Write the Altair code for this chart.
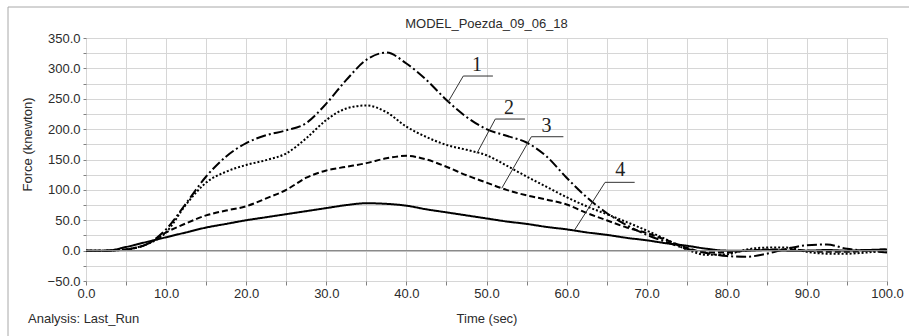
import altair as alt
import pandas as pd

# Sample times (s) and force histories (kN) for the four cases
time_s = [0, 2.5, 5, 7.5, 10, 12.5, 15, 17.5, 20, 22.5, 25, 27.5, 30, 32.5, 35, 37.5, 40,
          42.5, 45, 47.5, 50, 52.5, 55, 57.5, 60, 62.5, 65, 67.5, 70, 72.5, 75, 77.5, 80,
          82.5, 85, 87.5, 90, 92.5, 95, 97.5, 100]

force_1 = [0, 0, 2, 10, 35, 78, 122, 155, 177, 190, 198, 210, 242, 281, 314, 326, 308,
           281, 248, 220, 200, 189, 178, 155, 120, 88, 62, 42, 26, 14, 3, -4, -9,
           -10, -5, 3, 9, 10, 3, 0, -3]
force_2 = [0, 0, 2, 10, 30, 76, 112, 130, 141, 149, 160, 185, 215, 234, 239, 228, 204,
           187, 174, 166, 157, 140, 122, 105, 88, 73, 60, 47, 33, 18, 2, -7, -6,
           2, 5, 5, -2, -5, -5, -3, 0]
force_3 = [0, 0, 2, 10, 30, 45, 58, 66, 73, 86, 100, 120, 132, 138, 144, 152, 156,
           150, 138, 124, 112, 100, 91, 84, 76, 62, 50, 38, 29, 17, 5, -3, -3,
           0, 2, 2, 0, -2, -2, 0, 2]
force_4 = [0, 0, 6, 14, 22, 30, 38, 44, 50, 55, 60, 65, 70, 75, 78, 77, 74,
           68, 63, 58, 53, 48, 44, 39, 35, 30, 26, 21, 17, 12, 8, 3, 0,
           0, 1, 0, 0, 1, 0, 1, 2]

series_names = ["1", "2", "3", "4"]

# Callout labels and their leader lines (time, force)
label_t = [48.8, 52.8, 57.5, 66.7]
label_f = [305.5, 234.8, 205.0, 132.7]
leader_id = ["1", "1", "1", "2", "2", "2", "3", "3", "3", "4", "4", "4"]
leader_t = [45.2, 47.1, 50.8, 48.8, 51.1, 54.8, 51.9, 55.6, 59.6, 61.0, 64.8, 68.5]
leader_f = [244.6, 287.4, 287.4, 160.0, 216.6, 216.6, 102.6, 187.5, 187.5, 34.0, 112.4, 112.4]
leader_ord = [0, 1, 2] * 4

rows = []
for name, vals in zip(series_names, [force_1, force_2, force_3, force_4]):
    for t, f in zip(time_s, vals):
        rows.append({"t": t, "f": f, "case": name})
curves = pd.DataFrame(rows)
labels = pd.DataFrame({"t": label_t, "f": label_f, "name": series_names})
leaders = pd.DataFrame({"t": leader_t, "f": leader_f, "id": leader_id, "o": leader_ord})

FONT = "Liberation Sans"
TXT = "#2b2b2b"
x_scale = alt.Scale(domain=[0, 100], nice=False, zero=False)
y_scale = alt.Scale(domain=[-50, 350], nice=False, zero=False)

common_axis = dict(
    labelFont=FONT, titleFont=FONT, labelFontSize=13, titleFontSize=13,
    labelColor=TXT, titleColor=TXT, titleFontWeight="normal",
    gridColor="#d6d6d6", gridWidth=1, domain=False,
    tickColor="#808080", tickWidth=1, labelOverlap=False,
)

x_axis = alt.Axis(
    values=[i * 5 for i in range(21)],
    labelExpr="datum.value % 10 == 0 ? format(datum.value, '.1f') : ''",
    labelFlush=False,
    title="Time (sec)", titlePadding=12,
    tickSize=4, labelPadding=2,
    **common_axis,
)
y_axis = alt.Axis(
    values=[-50 + i * 25 for i in range(17)],
    labelExpr="datum.value % 50 == 0 ? format(datum.value, '.1f') : ''",
    title="Force (knewton)",
    titleX=-59, titleY=106, titleAngle=-90,
    titleAlign="center", titleBaseline="middle",
    tickSize=3, labelPadding=3,
    **common_axis,
)


def xy():
    return dict(
        x=alt.X("t:Q", scale=x_scale, axis=x_axis, title="Time (sec)"),
        y=alt.Y("f:Q", scale=y_scale, axis=y_axis, title="Force (knewton)"),
    )


lines = alt.Chart(curves).mark_line(color="black", strokeWidth=2, interpolate="monotone").encode(
    **xy(),
    strokeDash=alt.StrokeDash(
        "case:N",
        scale=alt.Scale(domain=series_names, range=[[10, 3, 2, 3], [2, 2], [6, 3], [1, 0]]),
        legend=None,
    ),
    detail="case:N",
)

zero_line = alt.Chart(pd.DataFrame({"t": [0], "f": [0]})).mark_rule(
    color="#8a8a8a", strokeWidth=1.2
).encode(y=alt.Y("f:Q", scale=y_scale, axis=y_axis, title="Force (knewton)"))

leader_lines = alt.Chart(leaders).mark_line(color="#333333", strokeWidth=1).encode(
    **xy(),
    detail="id:N",
    order="o:Q",
)

label_text = alt.Chart(labels).mark_text(
    font="Liberation Serif", fontSize=20, color="#222222", align="center", baseline="middle"
).encode(
    **xy(),
    text="name:N",
)

title_text = alt.Chart(pd.DataFrame({"txt": ["MODEL_Poezda_09_06_18"]})).mark_text(
    font=FONT, fontSize=13, color=TXT, align="center", baseline="middle"
).encode(x=alt.value(400.5), y=alt.value(-14), text="txt:N")

caption = alt.Chart(pd.DataFrame({"txt": ["Analysis:  Last_Run"]})).mark_text(
    font=FONT, fontSize=13, color=TXT, align="left", baseline="middle"
).encode(x=alt.value(-58), y=alt.value(281), text="txt:N")

frame_top = alt.Chart(pd.DataFrame({"k": [0]})).mark_rule(color="#a8a8a8", strokeWidth=1).encode(
    x=alt.value(-78), x2=alt.value(823), y=alt.value(-31)
)
frame_left = alt.Chart(pd.DataFrame({"k": [0]})).mark_rule(color="#a8a8a8", strokeWidth=1).encode(
    x=alt.value(-78), y=alt.value(-31), y2=alt.value(298)
)

chart = alt.layer(
    lines, zero_line, leader_lines, label_text, title_text, caption, frame_top, frame_left
).properties(
    width=801, height=243,
    autosize=alt.AutoSizeParams(type="none"),
    padding={"left": 86, "top": 38, "right": 22, "bottom": 55},
).configure_view(
    stroke="#808080", strokeWidth=1.5
).configure(background="white")

chart.save("out.html", embed_options={"renderer": "svg", "actions": False})
